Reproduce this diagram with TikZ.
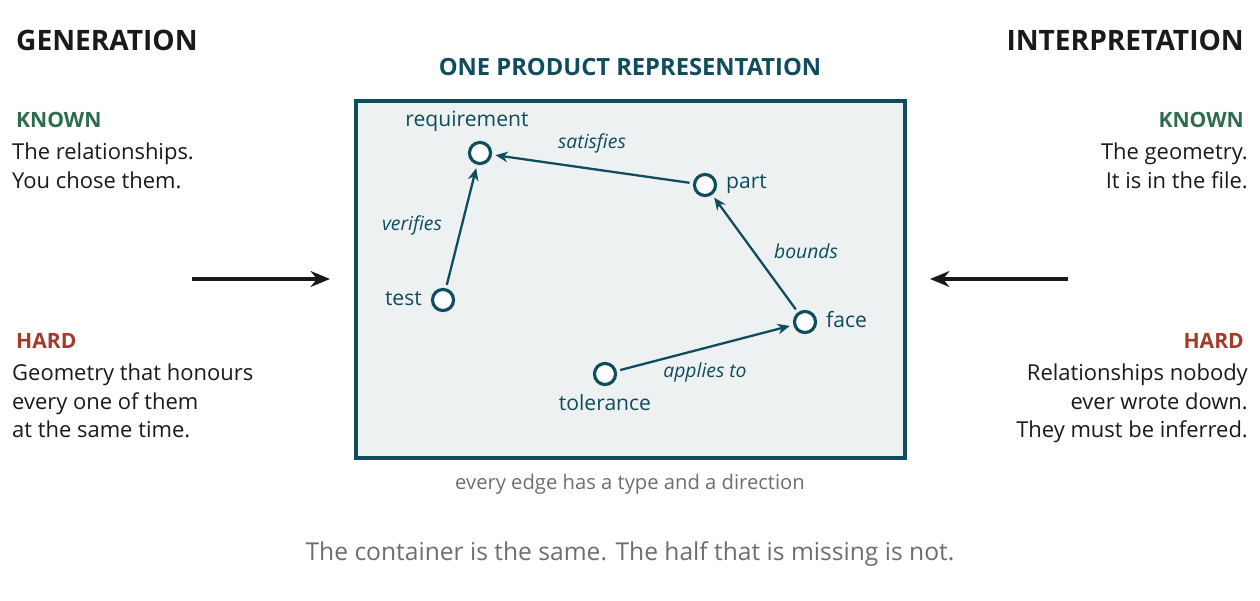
\documentclass[tikz,border=0pt]{standalone}
\usepackage{fontspec}
\setmainfont{Open Sans}
\usetikzlibrary{arrows.meta}
\definecolor{teal}{HTML}{0F4C5C}
\definecolor{known}{HTML}{2E6B4F}
\definecolor{hard}{HTML}{A23B2A}
\definecolor{note}{HTML}{6E6E6E}
\definecolor{panel}{HTML}{EDF1F2}
\definecolor{ink}{HTML}{1A1A1A}
\tikzset{
  vertex/.style={circle, draw=teal, line width=1.8pt, fill=white, minimum size=12pt, inner sep=0pt},
  vname/.style={text=teal, font=\fontsize{12}{14}\selectfont},
  elabel/.style={text=teal, font=\fontsize{11}{13}\selectfont\itshape},
  edge/.style={-{Stealth[length=7pt,width=6pt]}, teal, line width=1.3pt, shorten >=2pt, shorten <=2pt},
  big/.style={-{Stealth[length=11pt,width=9pt]}, ink, line width=2pt},
  head/.style={font=\fontsize{16}{19}\selectfont\bfseries, text=ink},
  tag/.style={font=\fontsize{12}{14}\selectfont\bfseries},
  body/.style={font=\fontsize{12.5}{16}\selectfont, text=ink}
}
\begin{document}
\begin{tikzpicture}[x=0.02cm,y=-0.02cm]
\useasboundingbox (0,0) rectangle (1260,601);

% panel
\draw[teal, line width=2pt, fill=panel] (356,101) rectangle (905,458);
\node[font=\fontsize{13.5}{16}\selectfont\bfseries, text=teal] (title) at (630,67) {ONE PRODUCT REPRESENTATION};

% graph
\node[vertex] (req) at (480,153) {};
\node[vertex] (part) at (705,185) {};
\node[vertex] (test) at (443,300) {};
\node[vertex] (face) at (805,322) {};
\node[vertex] (tol) at (605,374) {};

\node[vname] at (467,121) {requirement};
\node[vname, anchor=west] at (720,184) {part};
\node[vname, anchor=east] at (428,299) {test};
\node[vname, anchor=west] at (820,320) {face};
\node[vname] at (605,403) {tolerance};

\draw[edge] (part) -- (req);
\draw[edge] (test) -- (req);
\draw[edge] (face) -- (part);
\draw[edge] (tol) -- (face);

\node[elabel] at (592,143) {satisfies};
\node[elabel] at (412,225) {verifies};
\node[elabel] at (806,251) {bounds};
\node[elabel] at (705,372) {applies to};

\node[font=\fontsize{11.5}{14}\selectfont, text=note] (cap) at (630,484) {every edge has a type and a direction};

% left side
\node[head, anchor=west] (gen) at (10,40) {GENERATION};
\node[tag, text=known, anchor=west] (lk) at (10,120) {KNOWN};
\node[body, anchor=north west, align=left] (lkt) at (6,137) {The relationships.\\You chose them.};
\node[tag, text=hard, anchor=west] (lh) at (10,341) {HARD};
\node[body, anchor=north west, align=left] (lht) at (6,358) {Geometry that honours\\every one of them\\at the same time.};

% right side
\node[head, anchor=east] (int) at (1250,40) {INTERPRETATION};
\node[tag, text=known, anchor=east] (rk) at (1250,120) {KNOWN};
\node[body, anchor=north east, align=right] (rkt) at (1254,137) {The geometry.\\It is in the file.};
\node[tag, text=hard, anchor=east] (rh) at (1250,341) {HARD};
\node[body, anchor=north east, align=right] (rht) at (1254,358) {Relationships nobody\\ever wrote down.\\They must be inferred.};

% arrows
\coordinate (la) at (192,279);
\coordinate (lb) at (330,279);
\coordinate (ra) at (1068,279);
\coordinate (rb) at (930,279);
\draw[big] (la) -- (lb);
\draw[big] (ra) -- (rb);

\node[font=\fontsize{14}{17}\selectfont, text=note] (foot) at (630,554) {The container is the same. The half that is missing is not.};
\end{tikzpicture}
\end{document}
